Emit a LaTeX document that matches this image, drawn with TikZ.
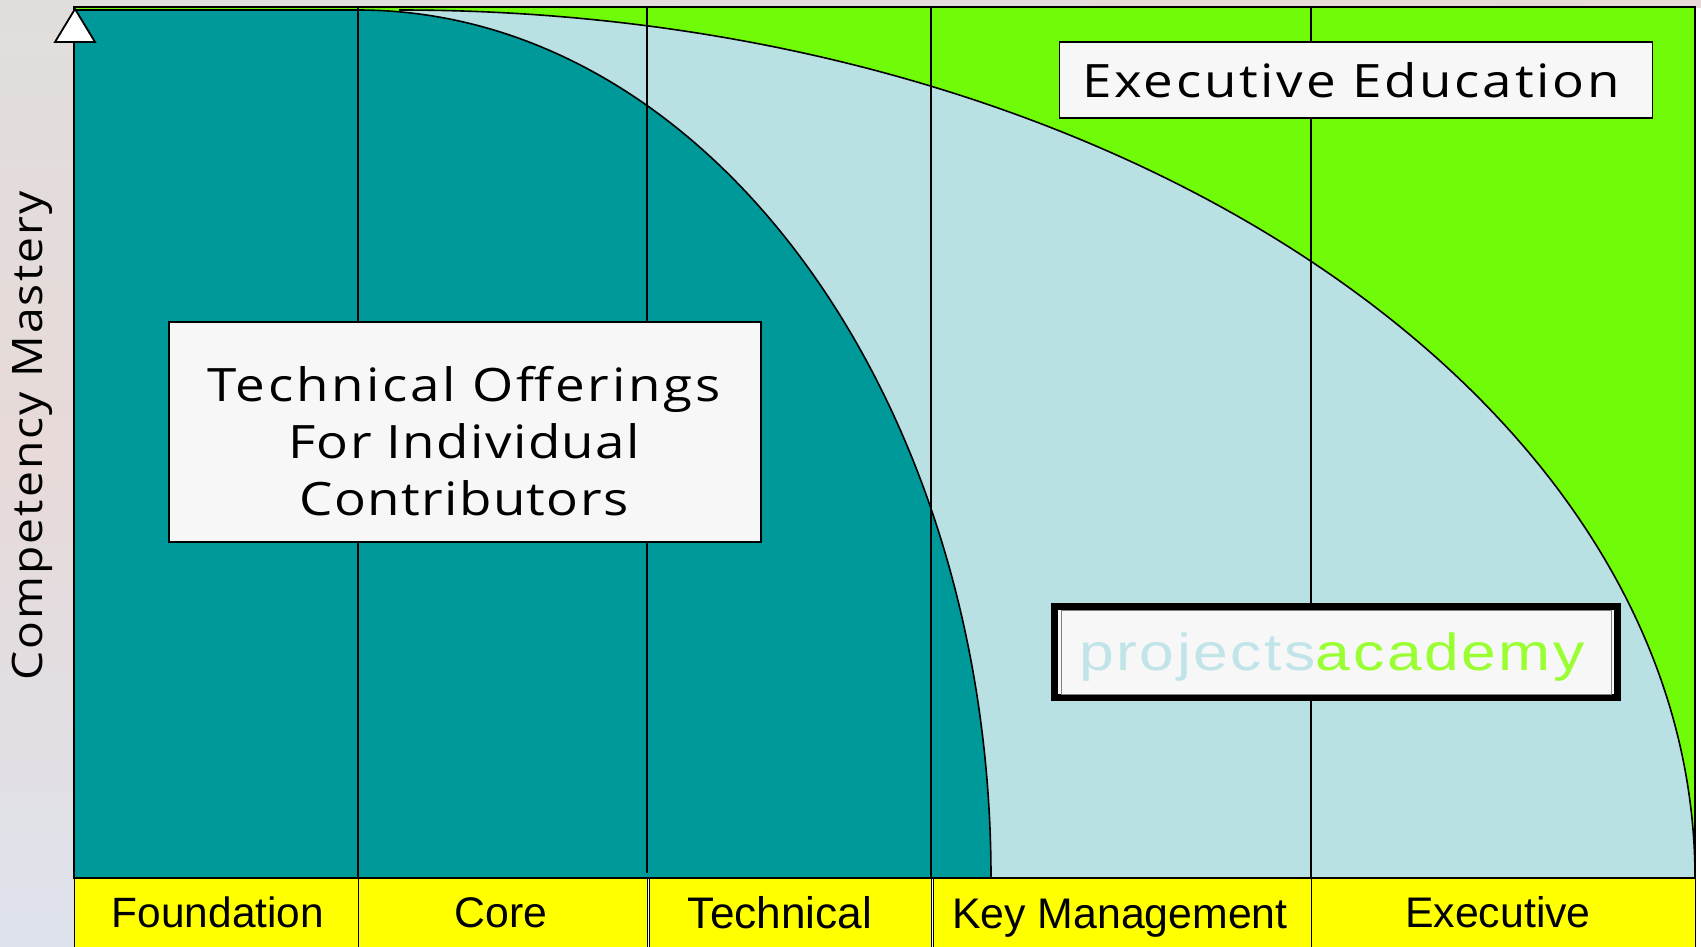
\documentclass[tikz,border=0pt]{standalone}
\usepackage{fontspec}
\setmainfont{Liberation Sans}
\newfontfamily\thinfont[FakeStretch=1.15,LetterSpace=6]{Open Sans}
\newfontfamily\tightfont[FakeStretch=1.15,LetterSpace=3]{Open Sans}
\newfontfamily\axisfont[FakeStretch=1.1,LetterSpace=5]{Open Sans}
\newfontfamily\spreadfont[FakeStretch=1.2,LetterSpace=5]{Liberation Sans}
\definecolor{bgtop}{RGB}{224,222,220}
\definecolor{bgmid}{RGB}{231,218,216}
\definecolor{bgbot}{RGB}{222,226,236}
\definecolor{limefill}{RGB}{112,252,8}
\definecolor{tealfill}{RGB}{0,153,153}
\definecolor{palefill}{RGB}{185,224,226}
\definecolor{boxfill}{RGB}{247,247,247}
\definecolor{bandfill}{RGB}{255,255,0}
\definecolor{acadgreen}{RGB}{153,255,51}
\definecolor{projblue}{RGB}{192,228,232}
\tikzset{
  x=1pt,y=-1pt,
  outline/.style={draw=black,line width=1.6pt},
  rule/.style={draw=black,line width=1.3pt},
  cell/.style={draw=black,line width=1pt,fill=bandfill},
  celltext/.style={font=\fontsize{42.8}{42.8}\selectfont,anchor=base,inner sep=0pt},
  whitebox/.style={draw=black,line width=1.8pt,fill=boxfill},
  boxtext/.style={font=\thinfont\fontsize{46}{57}\selectfont,align=center,inner sep=0pt}
}
\begin{document}
\begin{tikzpicture}
\useasboundingbox (0,0) rectangle (1701,946);
\shade[top color=bgtop,bottom color=bgmid] (0,0) rectangle (74,450);
\shade[top color=bgmid,bottom color=bgbot] (0,450) rectangle (74,946);
\shade[left color=bgtop,right color=bgmid] (74,0) rectangle (1701,8);
\fill[white] (1696,8) rectangle (1701,946);
% plot areas
\fill[limefill] (74,7) rectangle (1695,878);
\fill[palefill,draw=black,line width=1.6pt] (400,10) .. controls (1115,10) and (1695,399) .. (1695,878) -- (400,878) -- cycle;
\fill[tealfill,draw=black,line width=1.6pt] (74,10) -- (358,10) .. controls (708,10) and (991,399) .. (991,878) -- (74,878) -- cycle;
\draw[outline] (74,878) -- (74,7) -- (1695,7) -- (1695,878);
% verticals
\draw[rule] (358,7) -- (358,878);
\draw[rule] (647,7) -- (647,873);
\draw[rule] (931,7) -- (931,878);
\draw[rule] (1311,7) -- (1311,878);
% bands
\draw[cell] (74,878) rectangle (358,950);
\draw[cell] (358,878) rectangle (647,950);
\draw[cell] (649.5,878) rectangle (931,950);
\draw[cell] (933.5,878) rectangle (1311,950);
\draw[cell] (1311,878) rectangle (1695,950);
\node[celltext,font=\fontsize{42.4}{42.4}\selectfont] (foundation) at (218,927) {Foundation};
\node[celltext] (core) at (501,927) {Core};
\node[celltext,font=\fontsize{44.2}{44.2}\selectfont] (technical) at (780,928) {Technical};
\node[celltext] (keymgmt) at (1120,928) {Key Management};
\node[celltext] (executive) at (1498,927) {Executive};
% triangle
\draw[line width=1.8pt,fill=white,line join=miter] (75,9) -- (95,42) -- (55,42) -- cycle;
% axis label
\node[font=\axisfont\fontsize{42}{42}\selectfont,rotate=90,inner sep=0pt] (axis) at (32,436) {Competency Mastery};
% boxes
\node[whitebox,minimum width=592pt,minimum height=220pt,inner sep=0pt] (tech) at (465,432) {};
\node[boxtext] (techtext) at (464,441) {Technical Offerings\\{\tightfont\fontsize{46}{57}\selectfont For Individual}\\{\tightfont\fontsize{46}{57}\selectfont Contributors}};
\node[whitebox,minimum width=593pt,minimum height=76pt,inner sep=0pt] (exec) at (1356,80) {};
\node[boxtext] (exectext) at (1351,80) {Executive Education};
\node[draw=black,line width=7pt,fill=boxfill,minimum width=563pt,minimum height=91pt,inner sep=0pt] (acad) at (1336,652) {};
\draw[draw=gray,line width=1pt] (1061,610.5) rectangle (1611,694);
\node[font=\spreadfont\fontsize{52}{52}\selectfont,inner sep=0pt,anchor=base] (acadtext) at (1332,670) {\textcolor{projblue}{projects}\textcolor{acadgreen}{academy}};
\end{tikzpicture}
\end{document}
